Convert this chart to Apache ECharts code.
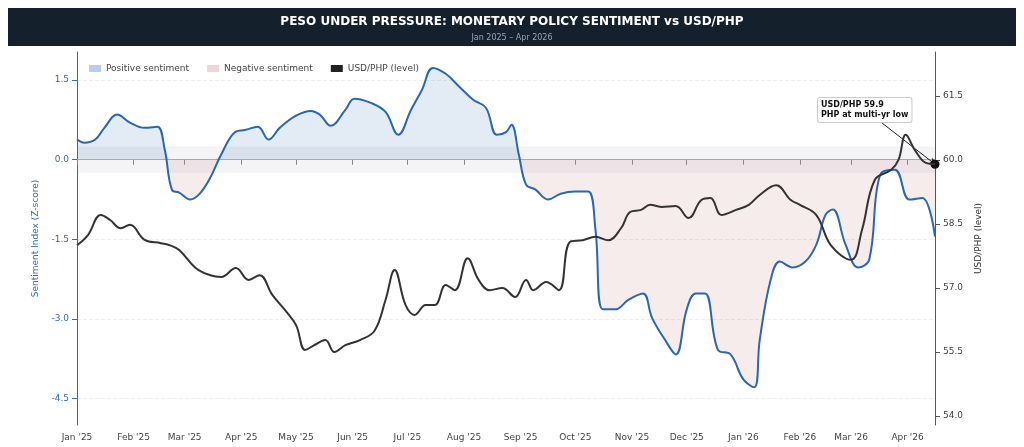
<!DOCTYPE html>
<html>
<head>
<meta charset="utf-8">
<script src="https://cdn.jsdelivr.net/npm/echarts@6/dist/echarts.min.js"></script>
<style>
  html, body { margin: 0; padding: 0; background: #fff; }
  #chart { width: 1024px; height: 447px; }
</style>
</head>
<body>
<div id="chart"></div>
<script>
// days counted from 1 Jan 2025
const startDate = Date.UTC(2025, 0, 1);
const DAY = 864e5;

const sentDays = [0, 4, 10, 15, 22, 29, 37, 44, 48, 52, 56, 62, 67, 73, 79, 87, 92, 99, 105, 111, 120, 128, 133, 139, 147, 152, 161, 169, 176, 183, 189, 195, 202, 209, 217, 224, 230, 235, 238, 242, 246, 251, 258, 265, 273, 280, 284, 288, 295, 302, 310, 315, 322, 328, 334, 339, 344, 351, 358, 365, 371, 374, 380, 385, 392, 399, 405, 410, 414, 421, 428, 434, 440, 448, 456, 463, 470];
const sentiment = [0.38, 0.32, 0.38, 0.6, 0.85, 0.7, 0.6, 0.62, 0.2, -0.57, -0.62, -0.75, -0.65, -0.34, 0.1, 0.53, 0.56, 0.62, 0.38, 0.6, 0.83, 0.92, 0.85, 0.64, 0.94, 1.15, 1.07, 0.9, 0.47, 0.94, 1.32, 1.73, 1.62, 1.39, 1.13, 0.98, 0.47, 0.52, 0.66, 0.1, -0.47, -0.56, -0.75, -0.64, -0.6, -0.6, -1.32, -2.82, -2.82, -2.64, -2.52, -2.98, -3.39, -3.67, -2.82, -2.52, -2.52, -3.58, -3.67, -4.14, -4.29, -3.39, -2.26, -1.92, -2.03, -1.92, -1.6, -1.04, -0.94, -1.6, -2.03, -1.88, -0.28, -0.19, -0.75, -0.72, -1.45];

const fxDays = [0, 6, 13, 18, 24, 29, 37, 46, 51, 56, 65, 73, 79, 87, 94, 100, 107, 114, 120, 125, 130, 136, 141, 147, 155, 163, 169, 174, 180, 185, 191, 196, 202, 207, 214, 220, 226, 233, 240, 246, 250, 257, 264, 270, 277, 284, 291, 298, 303, 309, 314, 320, 328, 335, 342, 347, 353, 361, 368, 374, 383, 391, 396, 405, 413, 424, 430, 437, 446, 450, 454, 459, 465, 470];
const usdPhp = [58.0, 58.24, 58.71, 58.6, 58.4, 58.48, 58.13, 58.05, 58.0, 57.89, 57.47, 57.3, 57.26, 57.47, 57.19, 57.3, 56.84, 56.48, 56.13, 55.55, 55.66, 55.78, 55.5, 55.66, 55.78, 56.0, 56.72, 57.42, 56.6, 56.37, 56.6, 56.6, 57.07, 56.95, 57.7, 57.19, 56.95, 57.0, 56.79, 57.19, 56.95, 57.14, 56.95, 58.08, 58.12, 58.2, 58.12, 58.4, 58.78, 58.83, 58.95, 58.9, 58.92, 58.64, 59.06, 59.11, 58.71, 58.83, 58.95, 59.18, 59.41, 59.06, 58.95, 58.71, 58.0, 57.66, 58.36, 59.53, 59.77, 60.0, 60.59, 60.23, 59.93, 59.9];

const leftTicks = [-4.5, -3.0, -1.5, 0.0, 1.5];
const rightTicks = [54.0, 55.5, 57.0, 58.5, 60.0, 61.5];

const toTime = d => startDate + d * DAY;
const sentData = sentDays.map((d, i) => [toTime(d), sentiment[i]]);
const posData = sentDays.map((d, i) => [toTime(d), Math.max(sentiment[i], 0)]);
const negData = sentDays.map((d, i) => [toTime(d), Math.min(sentiment[i], 0)]);
const fxData = fxDays.map((d, i) => [toTime(d), usdPhp[i]]);
const last = fxData[fxData.length - 1];

const months = ['Jan', 'Feb', 'Mar', 'Apr', 'May', 'Jun', 'Jul', 'Aug', 'Sep', 'Oct', 'Nov', 'Dec'];

const chart = echarts.init(document.getElementById('chart'));
const option = {
  animation: false,
  textStyle: { fontFamily: 'DejaVu Sans' },
  graphic: [
    { type: 'rect', left: 8, top: 8, shape: { width: 1008, height: 38 }, style: { fill: '#15202d' } },
    { type: 'text', left: 'center', top: 16, style: { text: 'PESO UNDER PRESSURE: MONETARY POLICY SENTIMENT vs USD/PHP', fill: '#fff', font: 'bold 12px DejaVu Sans' } },
    { type: 'text', left: 'center', top: 34, style: { text: 'Jan 2025 – Apr 2026', fill: '#9aa5b1', font: '8px DejaVu Sans' } },
    { type: 'text', left: 817, top: 97, z: 20, style: { text: 'USD/PHP 59.9\nPHP at multi-yr low', fill: '#111', font: 'bold 8px DejaVu Sans', lineHeight: 10, backgroundColor: '#fff', borderColor: '#ccc', borderWidth: 1, borderRadius: 2, padding: [2, 3] } }
  ],
  legend: {
    left: 84, top: 59, itemWidth: 12, itemHeight: 7, itemGap: 18,
    textStyle: { fontSize: 9, color: '#444' },
    data: [
      { name: 'Positive sentiment', icon: 'rect', itemStyle: { color: 'rgba(60,110,180,0.35)' } },
      { name: 'Negative sentiment', icon: 'rect', itemStyle: { color: 'rgba(200,120,120,0.3)' } },
      { name: 'USD/PHP (level)', icon: 'rect', itemStyle: { color: '#222' } }
    ]
  },
  grid: { left: 77, right: 89, top: 52, bottom: 22 },
  xAxis: {
    type: 'time',
    min: startDate,
    max: toTime(470),
    minInterval: 28 * DAY, maxInterval: 31 * DAY,
    axisLine: { lineStyle: { color: '#888' } },
    axisTick: { lineStyle: { color: '#888' } },
    axisLabel: {
      fontSize: 9, color: '#444', hideOverlap: false,
      formatter: v => { const d = new Date(v); return months[d.getUTCMonth()] + " '" + String(d.getUTCFullYear()).slice(2); }
    },
    splitLine: { show: false }
  },
  yAxis: [
    {
      type: 'value', min: -5, max: 2.03,
      name: 'Sentiment Index (Z-score)', nameLocation: 'middle', nameGap: 36,
      nameTextStyle: { color: '#2f6db5', fontSize: 9 },
      axisLine: { show: true, lineStyle: { color: '#2f6db5' } },
      axisTick: { show: true, customValues: leftTicks },
      axisLabel: { color: '#2f6db5', fontSize: 9, customValues: leftTicks, formatter: v => v.toFixed(1) },
      splitLine: { show: true, lineStyle: { color: '#eee', type: 'dashed' } }
    },
    {
      type: 'value', min: 53.79, max: 62.53, position: 'right',
      name: 'USD/PHP (level)', nameLocation: 'middle', nameGap: 38,
      nameTextStyle: { color: '#333', fontSize: 9 },
      axisLine: { show: true, lineStyle: { color: '#555' } },
      axisTick: { show: true, customValues: rightTicks },
      axisLabel: { color: '#444', fontSize: 9, customValues: rightTicks, formatter: v => v.toFixed(1) },
      splitLine: { show: false }
    }
  ],
  series: [
    {
      name: 'Positive sentiment', type: 'line', data: posData, smooth: 0.4, symbol: 'none',
      lineStyle: { opacity: 0 }, areaStyle: { color: 'rgba(60,110,180,0.2)', origin: 0 },
      markArea: { silent: true, itemStyle: { color: 'rgba(120,120,150,0.08)' }, data: [[{ yAxis: -0.25 }, { yAxis: 0.25 }]] },
      markLine: { silent: true, symbol: 'none', label: { show: false }, lineStyle: { color: '#aaa', type: 'solid', width: 1 }, data: [{ yAxis: 0 }] }
    },
    {
      name: 'Negative sentiment', type: 'line', data: negData, smooth: 0.4, symbol: 'none',
      lineStyle: { opacity: 0 }, areaStyle: { color: 'rgba(200,120,120,0.2)', origin: 0 }
    },
    {
      name: 'Sentiment', type: 'line', data: sentData, smooth: 0.4, symbol: 'none',
      lineStyle: { color: '#2b67b0', width: 2 }, z: 5
    },
    {
      name: 'USD/PHP (level)', type: 'line', yAxisIndex: 1, data: fxData, smooth: 0.4, symbol: 'none',
      lineStyle: { color: '#333', width: 2 }, itemStyle: { color: '#222' }, z: 6,
      markPoint: { symbol: 'circle', symbolSize: 9, itemStyle: { color: '#111' }, label: { show: false }, data: [{ coord: last }] },
      markLine: {
        silent: true, symbol: ['none', 'arrow'], symbolSize: 6, label: { show: false },
        lineStyle: { color: '#222', type: 'solid', width: 1 },
        data: [[{ coord: [toTime(437), 61.0] }, { coord: last }]]
      }
    }
  ]
};
chart.setOption(option);
</script>
</body>
</html>
